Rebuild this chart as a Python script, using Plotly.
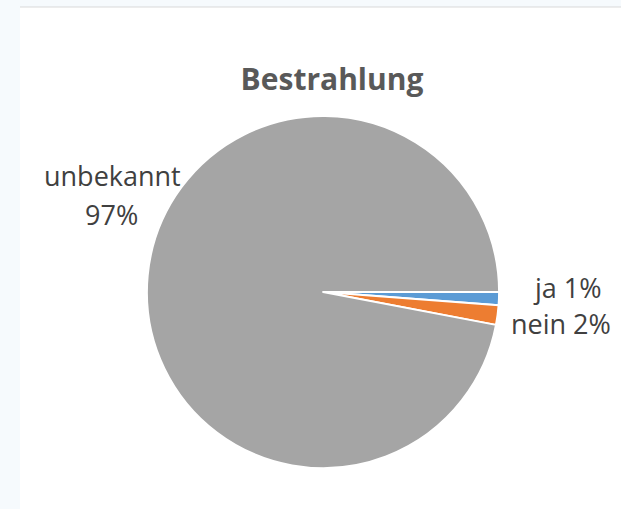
import plotly.graph_objects as go

labels = ["ja", "nein", "unbekannt"]
values = [1.2, 1.8, 97.0]
pct_labels = ["1%", "2%", "97%"]
colors = ["#5B9BD5", "#ED7D31", "#A5A5A5"]

W, H = 621, 509
fig = go.Figure()
fig.add_trace(go.Pie(
    labels=labels, values=values, sort=False, direction="clockwise", rotation=90,
    marker=dict(colors=colors, line=dict(color="white", width=1.8)),
    textinfo="none", hoverinfo="label+percent", showlegend=False,
    domain=dict(x=[147 / W, 499 / W], y=[(H - 468) / H, (H - 116) / H]),
))

FONT = "Open Sans, Lato, sans-serif"
font_lbl = dict(family=FONT, size=27, color="#404040")


def lbl(text, cx, cy):
    fig.add_annotation(x=cx / W, y=1 - cy / H, xref="paper", yref="paper",
                       text=text, showarrow=False, font=font_lbl,
                       xanchor="center", yanchor="middle")


lbl(labels[2], 112, 175)
lbl(pct_labels[2], 111, 215)
lbl(f"{labels[0]} {pct_labels[0]}", 567, 287)
lbl(f"{labels[1]} {pct_labels[1]}", 561, 323)

fig.update_layout(
    width=W, height=H, margin=dict(l=0, r=0, t=0, b=0),
    paper_bgcolor="#F6FAFD",
    title=dict(text="<b>Bestrahlung</b>", x=332 / W, xanchor="center",
               y=1 - 79 / H, yanchor="middle",
               font=dict(family=FONT, size=30, color="#595959")),
    shapes=[
        dict(type="rect", xref="paper", yref="paper", x0=20 / W, x1=1, y0=0, y1=1 - 7 / H,
             fillcolor="white", line=dict(width=0), layer="below"),
        dict(type="line", xref="paper", yref="paper", x0=20 / W, x1=1, y0=1 - 7 / H, y1=1 - 7 / H,
             line=dict(color="#D9D9D9", width=1), layer="below"),
    ],
)
fig.write_html("out.html", config={"displayModeBar": False},
               post_script="document.body.style.margin='0';document.body.style.overflow='hidden';")
